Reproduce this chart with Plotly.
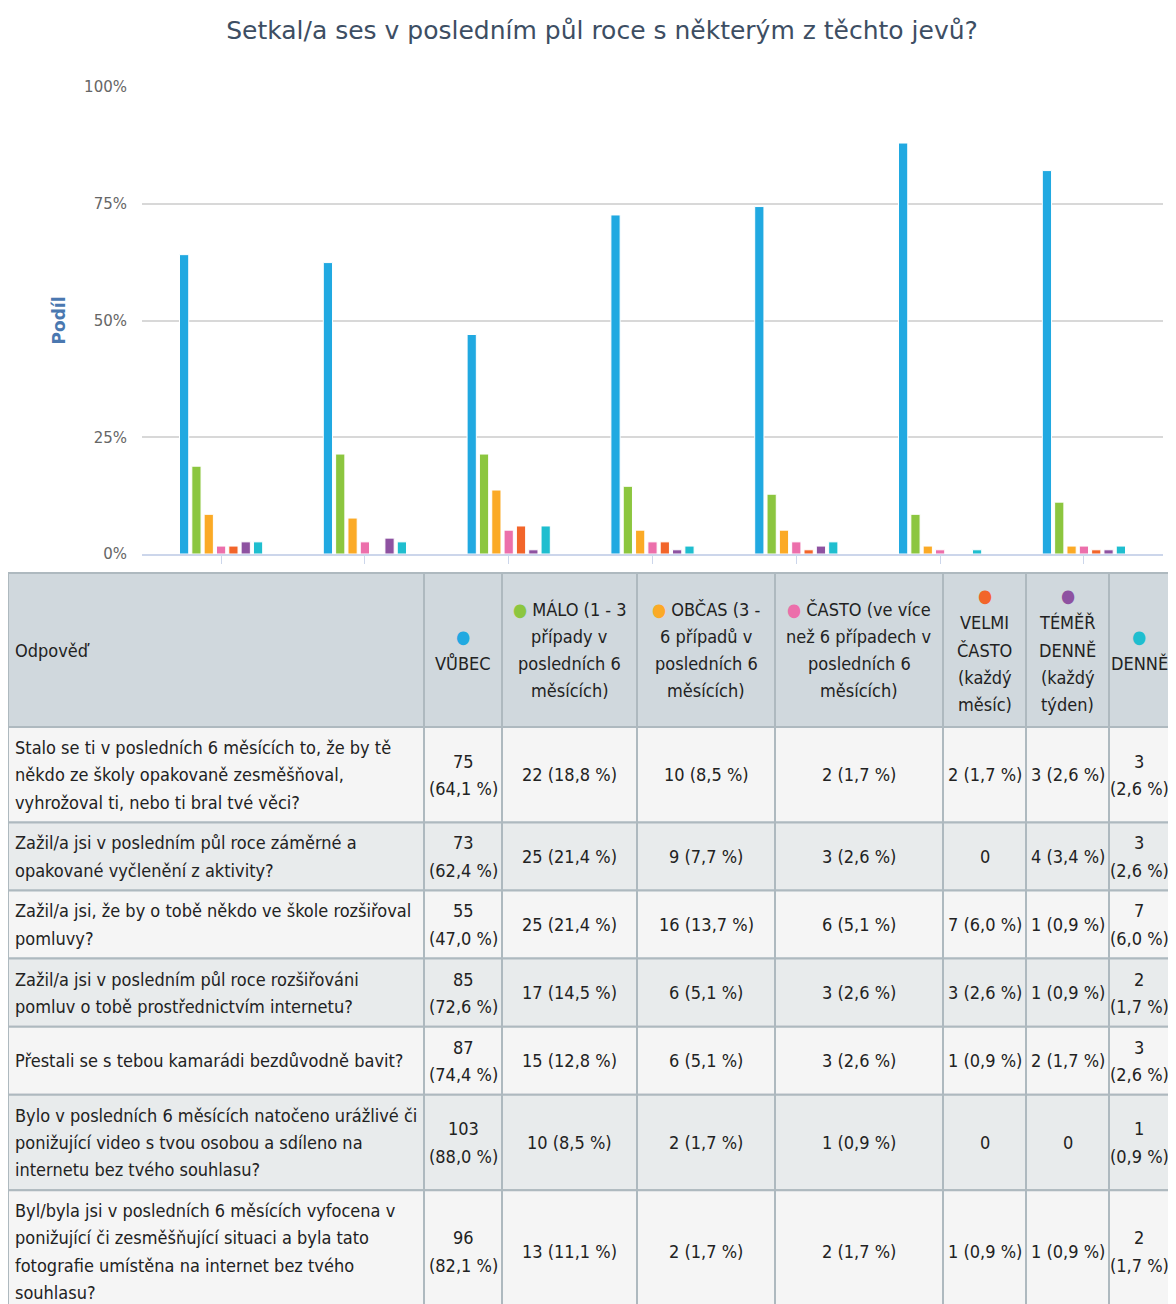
import plotly.graph_objects as go

# ---------------- data ----------------
questions = [
    "Stalo se ti v posledních 6 měsících to, že by tě<br>někdo ze školy opakovaně zesměšňoval,<br>vyhrožoval ti, nebo ti bral tvé věci?",
    "Zažil/a jsi v posledním půl roce záměrné a<br>opakované vyčlenění z aktivity?",
    "Zažil/a jsi, že by o tobě někdo ve škole rozšiřoval<br>pomluvy?",
    "Zažil/a jsi v posledním půl roce rozšiřováni<br>pomluv o tobě prostřednictvím internetu?",
    "Přestali se s tebou kamarádi bezdůvodně bavit?",
    "Bylo v posledních 6 měsících natočeno urážlivé či<br>ponižující video s tvou osobou a sdíleno na<br>internetu bez tvého souhlasu?",
    "Byl/byla jsi v posledních 6 měsících vyfocena v<br>ponižující či zesměšňující situaci a byla tato<br>fotografie umístěna na internet bez tvého<br>souhlasu?",
]

series_names = [
    "VŮBEC",
    "MÁLO (1 - 3 případy v posledních 6 měsících)",
    "OBČAS (3 - 6 případů v posledních 6 měsících)",
    "ČASTO (ve více než 6 případech v posledních 6 měsících)",
    "VELMI ČASTO (každý měsíc)",
    "TÉMĚŘ DENNĚ (každý týden)",
    "DENNĚ",
]
header_first = "Odpověď"
header_texts = [
    "VŮBEC",
    "MÁLO (1 - 3<br>případy v<br>posledních 6<br>měsících)",
    "OBČAS (3 -<br>6 případů v<br>posledních 6<br>měsících)",
    "ČASTO (ve více<br>než 6 případech v<br>posledních 6<br>měsících)",
    "VELMI<br>ČASTO<br>(každý<br>měsíc)",
    "TÉMĚŘ<br>DENNĚ<br>(každý<br>týden)",
    "DENNĚ",
]
colors = ["#21a9e1", "#8cc63f", "#fbaa26", "#ec6fab", "#f2652a", "#8e52a1", "#1fbecf"]

vubec_n = [75, 73, 55, 85, 87, 103, 96]
vubec_pct = [64.1, 62.4, 47.0, 72.6, 74.4, 88.0, 82.1]
malo_n = [22, 25, 25, 17, 15, 10, 13]
malo_pct = [18.8, 21.4, 21.4, 14.5, 12.8, 8.5, 11.1]
obcas_n = [10, 9, 16, 6, 6, 2, 2]
obcas_pct = [8.5, 7.7, 13.7, 5.1, 5.1, 1.7, 1.7]
casto_n = [2, 3, 6, 3, 3, 1, 2]
casto_pct = [1.7, 2.6, 5.1, 2.6, 2.6, 0.9, 1.7]
velmi_n = [2, 0, 7, 3, 1, 0, 1]
velmi_pct = [1.7, 0.0, 6.0, 2.6, 0.9, 0.0, 0.9]
temer_n = [3, 4, 1, 1, 2, 0, 1]
temer_pct = [2.6, 3.4, 0.9, 0.9, 1.7, 0.0, 0.9]
denne_n = [3, 3, 7, 2, 3, 1, 2]
denne_pct = [2.6, 2.6, 6.0, 1.7, 2.6, 0.9, 1.7]

y_ticks = [0, 25, 50, 75, 100]
y_ticktext = ["0%", "25%", "50%", "75%", "100%"]

counts = [vubec_n, malo_n, obcas_n, casto_n, velmi_n, temer_n, denne_n]
pcts = [vubec_pct, malo_pct, obcas_pct, casto_pct, velmi_pct, temer_pct, denne_pct]

# ---------------- styling / layout constants ----------------
OFF = 8  # default page body margin of the html page
W, H = 1176 - OFF, 1304 - OFF  # figure fills the visible window without scrollbars
TABLE_FONT = "DejaVu Sans Condensed, Liberation Sans Narrow, Arial Narrow, sans-serif"
TITLE_FONT = "DejaVu Sans, sans-serif"
TEXT_COLOR = "#222222"
FONT_SIZE = 18

# table geometry in page pixels
TABLE_LEFT, TABLE_TOP = 8, 573
COL_WIDTHS = [416, 78, 135, 138, 168, 83, 83, 60]
LINE_H = 27.3
BODY_PAD = 13.5
HEAD_PAD = 17.5
CELL_PAD_X = 5
HEADER_FILL = "#d0d8dd"
ROW_FILLS = ["#f5f5f5", "#e8ebec"]
BORDER = "#aeb9bf"


def fx(px):
    return (px - OFF) / W


def fy(px):
    return 1 - (px - OFF) / H


fig = go.Figure()

x_idx = list(range(len(questions)))
for name, col, p in zip(series_names, colors, pcts):
    fig.add_trace(go.Bar(
        x=x_idx, y=p, name=name,
        marker=dict(color=col, line=dict(color="white", width=1)),
        showlegend=False,
    ))

# ---------------- table (drawn on a pixel-unit helper axis pair) ----------------
def fmt_pct(v):
    return f"{v:.1f}".replace(".", ",")


def cell_one(n, p):
    return "0" if n == 0 else f"{n} ({fmt_pct(p)} %)"


def cell_two(n, p):
    return "0" if n == 0 else f"{n}<br>({fmt_pct(p)} %)"


def dot(col):
    return f'<span style="color:{col}">●</span>'


header_cells = [[header_first]]
for i, (t, col) in enumerate(zip(header_texts, colors)):
    lines = t.split("<br>")
    if i in (0, 4, 5, 6):
        header_cells.append([dot(col)] + lines)
    else:
        header_cells.append([dot(col) + " " + lines[0]] + lines[1:])

body = []
for ri, q in enumerate(questions):
    row = [q.split("<br>")]
    for si in range(len(series_names)):
        if si in (0, len(series_names) - 1):
            txt = cell_two(counts[si][ri], pcts[si][ri])
        else:
            txt = cell_one(counts[si][ri], pcts[si][ri])
        row.append(txt.split("<br>"))
    body.append(row)

col_edges = [TABLE_LEFT]
for w in COL_WIDTHS:
    col_edges.append(col_edges[-1] + w)

header_h = HEAD_PAD + LINE_H * max(len(c) for c in header_cells)
row_heights = [BODY_PAD + LINE_H * max(len(c) for c in row) for row in body]
row_edges = [TABLE_TOP, TABLE_TOP + header_h]
for h in row_heights:
    row_edges.append(row_edges[-1] + h)

shapes = []
annotations = []


def add_cell(x0, x1, y0, y1, fill, lines, align):
    shapes.append(dict(type="rect", xref="x2", yref="y2", x0=x0, x1=x1, y0=y0, y1=y1,
                       fillcolor=fill, line=dict(color=BORDER, width=2), layer="below"))
    yc = (y0 + y1) / 2
    k = len(lines)
    for li, ln in enumerate(lines):
        yl = yc + (li - (k - 1) / 2) * LINE_H
        if align == "left":
            xa, anchor = x0 + CELL_PAD_X, "left"
        else:
            xa, anchor = (x0 + x1) / 2, "center"
        annotations.append(dict(xref="x2", yref="y2", x=xa, y=yl, text=ln,
                                showarrow=False, xanchor=anchor, yanchor="middle",
                                font=dict(family=TABLE_FONT, size=FONT_SIZE, color=TEXT_COLOR)))


for c, lines in enumerate(header_cells):
    add_cell(col_edges[c], col_edges[c + 1], row_edges[0], row_edges[1], HEADER_FILL,
             lines, "left" if c == 0 else "center")

for r, row in enumerate(body):
    for c, lines in enumerate(row):
        add_cell(col_edges[c], col_edges[c + 1], row_edges[r + 1], row_edges[r + 2],
                 ROW_FILLS[r % 2], lines, "left" if c == 0 else "center")

fig.update_layout(
    width=W, height=H,
    margin=dict(l=0, r=0, t=0, b=0),
    paper_bgcolor="white", plot_bgcolor="rgba(0,0,0,0)",
    barmode="group", bargap=0.4, bargroupgap=0.25,
    title=dict(
        text="Setkal/a ses v posledním půl roce s některým z těchto jevů?",
        x=fx(602), xanchor="center", y=fy(30), yanchor="middle",
        font=dict(family=TITLE_FONT, size=25, color="#3d4e63"),
    ),
    xaxis=dict(
        domain=[fx(142), fx(1163)],
        range=[-0.55, 6.55],
        tickvals=x_idx, showticklabels=False,
        ticks="outside", ticklen=8, tickcolor="#ccd6eb", tickwidth=1,
        showline=True, linecolor="#ccd6eb", linewidth=1.5,
        showgrid=False, zeroline=False, fixedrange=True,
    ),
    yaxis=dict(
        domain=[fy(554), fy(87)],
        range=[0, 100],
        tickmode="array", tickvals=y_ticks, ticktext=y_ticktext,
        tickfont=dict(family=TITLE_FONT, size=15, color="#666666"),
        ticklabelstandoff=14,
        showgrid=True, gridcolor="#d8d8d8", gridwidth=1.5,
        zeroline=False, showline=False,
        title=dict(text="<b>Podíl</b>", standoff=14,
                   font=dict(family=TITLE_FONT, size=17, color="#4a78b0")),
        automargin=False, fixedrange=True,
    ),
    xaxis2=dict(domain=[0, 1], range=[OFF, OFF + W], visible=False,
                anchor="y2", fixedrange=True),
    yaxis2=dict(domain=[0, 1], range=[OFF + H, OFF], visible=False,
                anchor="x2", fixedrange=True),
    shapes=shapes,
    annotations=annotations,
)

fig.write_html("out.html")
